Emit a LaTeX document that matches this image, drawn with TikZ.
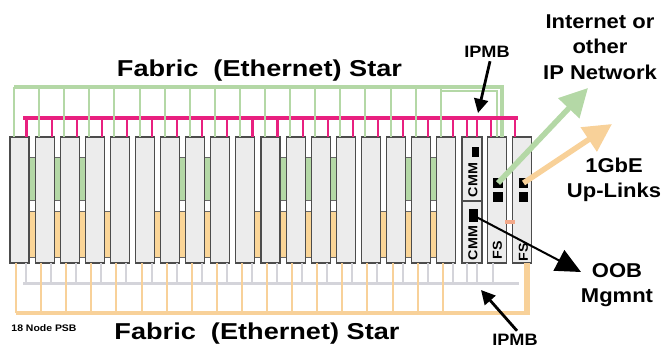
\documentclass[tikz,border=0pt]{standalone}
\usepackage{fontspec}
\setmainfont{Liberation Sans}
\newfontfamily\titlefont[FakeStretch=1.18]{Liberation Sans}
\newfontfamily\lblfont[FakeStretch=1.1]{Liberation Sans}
\usetikzlibrary{arrows.meta}

\definecolor{boardgray}{HTML}{ECECEC}
\definecolor{fabgreen}{HTML}{B4D8A6}
\definecolor{faborange}{HTML}{FAD597}
\definecolor{ipmbpink}{HTML}{E8207F}
\definecolor{ipmbgray}{HTML}{D4D4DA}
\definecolor{linkorange}{HTML}{F8D199}
\definecolor{salmon}{HTML}{F2A98A}

\begin{document}
\begin{tikzpicture}[
  x=1pt, y=-1pt,
  board/.style={draw=black!70, line width=1.1pt, fill=boardgray, minimum width=19pt,
    minimum height=126pt, inner sep=0pt, outer sep=0pt, anchor=north west},
  port/.style={fill=black, inner sep=0pt, minimum width=10pt, minimum height=10pt},
  ethbox/.style={draw=black!60, line width=1pt},
  gwire/.style={draw=fabgreen, line width=2pt},
  owire/.style={draw=linkorange, line width=2pt},
  pwire/.style={draw=ipmbpink, line width=2.2pt},
  swire/.style={draw=ipmbgray, line width=2pt},
  bigtext/.style={font=\titlefont\bfseries\fontsize{23}{27}\selectfont, anchor=base},
  lbl/.style={font=\lblfont\bfseries\fontsize{20}{25.5}\selectfont, align=center},
  ipmblbl/.style={font=\lblfont\bfseries\fontsize{16.5}{16.5}\selectfont},
  slotlbl/.style={font=\lblfont\bfseries\fontsize{13}{13}\selectfont, rotate=90, inner sep=0pt},
  pointer/.style={draw=black, line width=2.8pt, -{Triangle[length=14pt, width=14pt]}},
  uplink/.style={line width=5.5pt, -{Triangle[length=28pt, width=28pt]}}
]
\useasboundingbox (0,0) rectangle (662,349);

% fabric connectors behind the boards
\foreach \g in {1,2,3,7,8,11,12,13,16,17}
  \draw[ethbox, fill=fabgreen] ({25.1*\g+2},157) rectangle ({25.1*\g+12},200);
\foreach \g in {1,2,3,4,6,7,8,10,11,12,13,15,16,17}
  \draw[ethbox, fill=faborange] ({25.1*\g+2},211) rectangle ({25.1*\g+12},257);

% node boards
\foreach \i in {1,...,18}
  \node[board] (b\i) at ({10+25.1*(\i-1)},137) {};
\node[board, minimum width=20pt, minimum height=64pt] (cmma) at (462,137) {};
\node[board, minimum width=20pt, minimum height=62pt] (cmmb) at (462,201) {};
\node[board] (fs1) at (487.5,137) {};
\node[board] (fs2) at (512.6,137) {};

\coordinate (gbus) at (0,87);
\coordinate (gbus2) at (0,91);
\coordinate (pbus) at (0,118);
\coordinate (sbus) at (0,283);
\coordinate (obus) at (0,313);

% buses
\draw[gwire, line width=3.5pt] ([xshift=4pt]b1.north west |- gbus)
  -- ([xshift=14.5pt]fs1.north west |- gbus) -- ([xshift=14.5pt]fs1.north west);
\draw[gwire] ([xshift=4pt]b18.north west |- gbus2)
  -- ([xshift=9.5pt]fs1.north west |- gbus2) -- ([xshift=9.5pt]fs1.north west);
\draw[pwire, line width=4pt] ([xshift=-6pt]b1.north east |- pbus) -- ([xshift=5.5pt]fs2.north west |- pbus);
\draw[swire, line width=3pt] ([xshift=-6pt]b1.south east |- sbus) -- ([xshift=6.5pt]fs2.south west |- sbus);
\draw[owire, line width=3.5pt] ([xshift=6pt]b1.south west |- obus)
  -- ([xshift=15.4pt]fs2.south west |- obus) -- ([xshift=15.4pt]fs2.south west);
\draw[owire] ([xshift=12.4pt]fs2.south west) -- ([xshift=12.4pt]fs2.south west |- obus);

\foreach \i in {1,...,18}{
  \draw[gwire] ([xshift=4pt]b\i.north west) -- ([xshift=4pt]b\i.north west |- gbus);
  \draw[pwire] ([xshift=-2.5pt]b\i.north east) -- ([xshift=-2.5pt]b\i.north east |- pbus);
  \draw[swire] ([xshift=-3pt]b\i.south east) -- ([xshift=-3pt]b\i.south east |- sbus);
  \draw[owire] ([xshift=6pt]b\i.south west) -- ([xshift=6pt]b\i.south west |- obus);
}
\draw[pwire] ([xshift=5pt]cmma.north west) -- ([xshift=5pt]cmma.north west |- pbus);
\draw[pwire] ([xshift=-5pt]cmma.north east) -- ([xshift=-5pt]cmma.north east |- pbus);
\draw[pwire] ([xshift=3.5pt]fs1.north west) -- ([xshift=3.5pt]fs1.north west |- pbus);
\draw[pwire] ([xshift=2.5pt]fs2.north west) -- ([xshift=2.5pt]fs2.north west |- pbus);
\draw[swire] ([xshift=5pt]cmmb.south west) -- ([xshift=5pt]cmmb.south west |- sbus);
\draw[swire] ([xshift=-5pt]cmmb.south east) -- ([xshift=-5pt]cmmb.south east |- sbus);
\draw[swire] ([xshift=5.5pt]fs1.south west) -- ([xshift=5.5pt]fs1.south west |- sbus);

% ports and slot labels
\node[port, minimum width=7pt] (cmmpa) at (475.5,152) {};
\node[port, minimum width=9pt, minimum height=13pt] (cmmpb) at (473.5,215.5) {};
\node[port] (fs1pa) at (498,183) {};
\node[port] (fs1pb) at (498,197) {};
\node[port, minimum width=9pt] (fs2pa) at (523.5,183) {};
\node[port, minimum width=9pt] (fs2pb) at (523.5,197) {};
\fill[salmon] (505,220) rectangle (515,224);

\node[slotlbl] (cmmta) at (473,180) {CMM};
\node[slotlbl] (cmmtb) at (473,243) {CMM};
\node[slotlbl] (fs1t) at (497.5,250) {FS};
\node[slotlbl] (fs2t) at (523.5,252) {FS};

% texts
\node[bigtext] (fabtop) at (259.5,76) {Fabric\ \ (Ethernet) Star};
\node[bigtext] (fabbot) at (257,339) {Fabric\ \ (Ethernet) Star};
\node[font=\lblfont\bfseries\fontsize{9.5}{9.5}\selectfont, anchor=base] (psb) at (44,331) {18 Node PSB};
\node[lbl] (net) at (600,47) {Internet or\\other\\IP Network};
\node[lbl] (gbe) at (614,180) {1GbE\\Up-Links};
\node[lbl] (oob) at (617,285) {OOB\\Mgmnt};
\node[ipmblbl] (ipmbtop) at (487,52) {IPMB};
\node[ipmblbl] (ipmbbot) at (515,340) {IPMB};

% arrows
\coordinate (nettip) at (588,88);
\coordinate (gbetip) at (612,124);
\coordinate (oobtip) at (581,272);
\coordinate (ipmbtip) at (478,113);
\coordinate (ipmbbtip) at (481,290);
\draw[uplink, fabgreen] (fs1pa.center) -- (nettip);
\draw[uplink, linkorange] (fs2pa.center) -- (gbetip);
\draw[line width=2pt, -{Triangle[length=25pt, width=23pt]}] (cmmpb.center) -- (oobtip);
\draw[pointer] ([xshift=3pt]ipmbtop.south) -- (ipmbtip);
\draw[pointer] ([xshift=2pt]ipmbbot.north) -- (ipmbbtip);
\end{tikzpicture}
\end{document}
